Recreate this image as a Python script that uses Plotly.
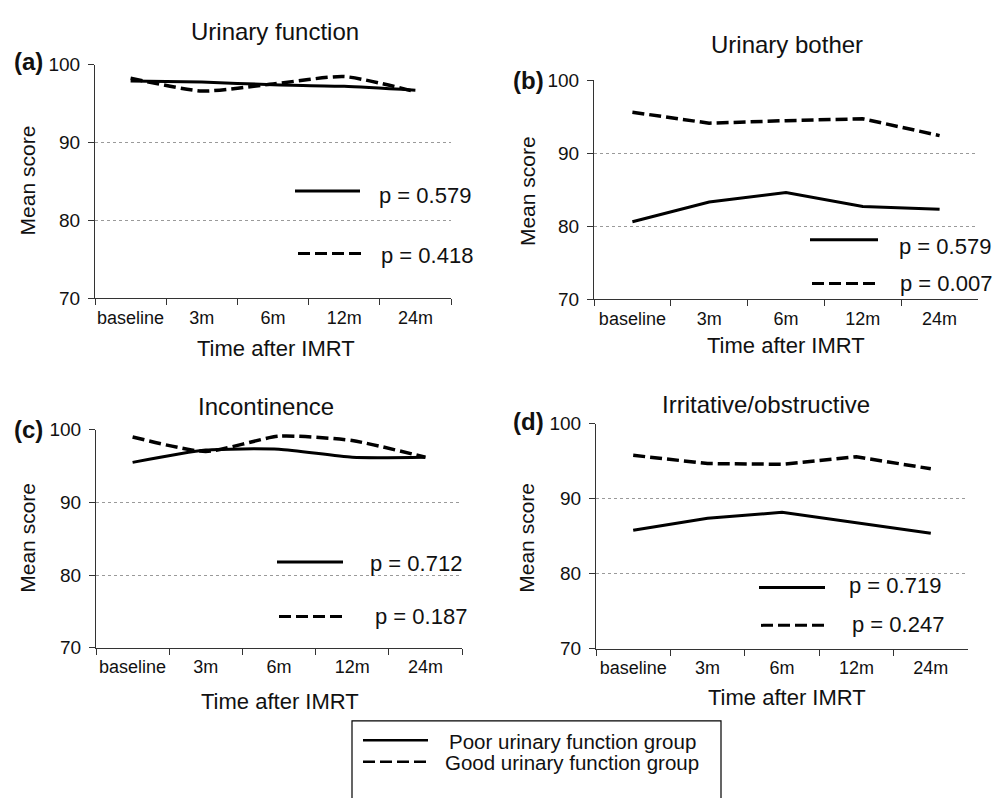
import plotly.graph_objects as go

W, H = 1005, 798

# Time points after IMRT
categories = ["baseline", "3m", "6m", "12m", "24m"]

# Mean scores per domain: poor vs good baseline urinary function group
urinary_function_poor = [97.9, 97.75, 97.4, 97.2, 96.7]
urinary_function_good = [98.25, 96.6, 97.5, 98.45, 96.5]
urinary_bother_poor = [80.6, 83.3, 84.6, 82.7, 82.3]
urinary_bother_good = [95.6, 94.1, 94.45, 94.7, 92.4]
incontinence_poor = [95.5, 97.2, 97.3, 96.2, 96.2]
incontinence_good = [99.0, 97.0, 99.1, 98.5, 96.2]
irritative_poor = [85.8, 87.4, 88.2, 86.8, 85.4]
irritative_good = [95.8, 94.7, 94.6, 95.6, 94.0]

panel_titles = ["Urinary function", "Urinary bother", "Incontinence", "Irritative/obstructive"]
panel_tags = ["(a)", "(b)", "(c)", "(d)"]
p_poor = ["p = 0.579", "p = 0.579", "p = 0.712", "p = 0.719"]
p_good = ["p = 0.418", "p = 0.007", "p = 0.187", "p = 0.247"]
group_names = ["Poor urinary function group", "Good urinary function group"]

FONT = "Liberation Sans, Arial, Helvetica, sans-serif"
DASH = "12px,5px"


def px_x(x):
    return x / W


def px_y(y):
    return 1 - y / H


# plot-area boxes in pixels: left, right, top, bottom
boxes = [
    (95, 451, 56, 296),
    (594, 978, 72, 297),
    (96, 462, 431, 655),
    (596, 968, 425, 656),
]

series = [
    (urinary_function_poor, urinary_function_good, "spline"),
    (urinary_bother_poor, urinary_bother_good, "linear"),
    (incontinence_poor, incontinence_good, "spline"),
    (irritative_poor, irritative_good, "linear"),
]

# text placement per panel (pixels)
title_pos = [(275, 22), (787, 35), (266, 407), (766, 405)]
tag_pos = [(12, 53), (511, 72), (12, 431), (511, 423)]
ylab_pos = [(27, 175), (527, 186), (28, 542), (527, 542)]
xlab_pos = [(276, 348), (786, 345), (280, 710), (787, 706)]
# p-value key: (x0, x1, y) for the line, (x, y) for the text
key_poor = [((295, 360, 186), (377, 191)), ((810, 878, 236), (897, 243)),
            ((277, 343, 567), (368, 568)), ((759, 825, 593), (847, 591))]
key_good = [((298, 363, 250), (379, 252)), ((812, 879, 281), (898, 281)),
            ((279, 345, 623), (373, 623)), ((761, 827, 632), (850, 631))]

fig = go.Figure()
annotations = []
shapes = []

for i, (box, (poor, good, shape)) in enumerate(zip(boxes, series)):
    n = i + 1
    xa = "x" if n == 1 else f"x{n}"
    ya = "y" if n == 1 else f"y{n}"
    fig.add_trace(go.Scatter(
        x=categories, y=poor, mode="lines", xaxis=xa, yaxis=ya,
        line=dict(color="black", width=3, shape=shape, smoothing=0.6),
        name=group_names[0], showlegend=False, hoverinfo="skip"))
    fig.add_trace(go.Scatter(
        x=categories, y=good, mode="lines", xaxis=xa, yaxis=ya,
        line=dict(color="black", width=3.5, dash=DASH, shape=shape, smoothing=0.6),
        name=group_names[1], showlegend=False, hoverinfo="skip"))

    l, r, t, b = box
    xkey = "xaxis" if n == 1 else f"xaxis{n}"
    ykey = "yaxis" if n == 1 else f"yaxis{n}"
    fig.layout[xkey] = dict(
        domain=[px_x(l), px_x(r)], anchor=ya, type="category",
        categoryorder="array", categoryarray=categories,
        range=[-0.5, 4.5], tickson="boundaries", ticks="outside",
        ticklen=6, tickcolor="#333", showline=True, linecolor="#333",
        linewidth=1, showgrid=False, zeroline=False, tickangle=0,
        tickfont=dict(family=FONT, size=18, color="#111"),
        ticklabelstandoff=3,
    )
    fig.layout[ykey] = dict(
        domain=[px_y(b), px_y(t)], anchor=xa, range=[70, 100],
        tickvals=[70, 80, 90, 100], ticks="outside", ticklen=6,
        tickcolor="#333", showline=True, linecolor="#333", linewidth=1,
        showgrid=True, gridcolor="#9a9a9a", griddash="dot", gridwidth=1,
        zeroline=False, tickfont=dict(family=FONT, size=19, color="#111"),
        ticklabelstandoff=4,
    )

    annotations.append(dict(
        text=panel_titles[i], x=px_x(title_pos[i][0]), y=px_y(title_pos[i][1]),
        xref="paper", yref="paper", showarrow=False, xanchor="center",
        yanchor="middle", font=dict(family=FONT, size=24, color="#111")))
    annotations.append(dict(
        text=f"<b>{panel_tags[i]}</b>", x=px_x(tag_pos[i][0]), y=px_y(tag_pos[i][1]),
        xref="paper", yref="paper", showarrow=False, xanchor="left",
        yanchor="middle", font=dict(family=FONT, size=24, color="#111")))
    annotations.append(dict(
        text="Mean score", x=px_x(ylab_pos[i][0]), y=px_y(ylab_pos[i][1]),
        xref="paper", yref="paper", showarrow=False, textangle=-90,
        xanchor="center", yanchor="middle",
        font=dict(family=FONT, size=21, color="#111")))
    annotations.append(dict(
        text="Time after IMRT", x=px_x(xlab_pos[i][0]), y=px_y(xlab_pos[i][1]),
        xref="paper", yref="paper", showarrow=False, xanchor="center",
        yanchor="middle", font=dict(family=FONT, size=22, color="#111")))

    for (seg, txt), label, dashed in ((key_poor[i], p_poor[i], False),
                                      (key_good[i], p_good[i], True)):
        x0, x1, y = seg
        shapes.append(dict(
            type="line", xref="paper", yref="paper",
            x0=px_x(x0), x1=px_x(x1), y0=px_y(y), y1=px_y(y),
            line=dict(color="black", width=3,
                      dash=DASH if dashed else "solid")))
        annotations.append(dict(
            text=label, x=px_x(txt[0]), y=px_y(txt[1]), xref="paper",
            yref="paper", showarrow=False, xanchor="left", yanchor="middle",
            font=dict(family=FONT, size=22, color="#111")))

# Group key box at the bottom
shapes.append(dict(type="rect", xref="paper", yref="paper",
                   x0=px_x(352), x1=px_x(721), y0=px_y(815), y1=px_y(730),
                   line=dict(color="black", width=1.2), fillcolor="rgba(0,0,0,0)"))
for j, (ly, tx) in enumerate(((750, 447), (772, 443))):
    shapes.append(dict(type="line", xref="paper", yref="paper",
                       x0=px_x(363), x1=px_x(428), y0=px_y(ly), y1=px_y(ly),
                       line=dict(color="black", width=2.5,
                                 dash=DASH if j == 1 else "solid")))
    annotations.append(dict(
        text=group_names[j], x=px_x(tx), y=px_y(ly + 1), xref="paper",
        yref="paper", showarrow=False, xanchor="left", yanchor="middle",
        font=dict(family=FONT, size=20.5, color="#111")))

fig.update_layout(
    width=W, height=H, margin=dict(l=0, r=0, t=0, b=0),
    paper_bgcolor="white", plot_bgcolor="white",
    annotations=annotations, shapes=shapes, showlegend=False,
    font=dict(family=FONT, color="#111"),
)

fig.write_html("out.html")
